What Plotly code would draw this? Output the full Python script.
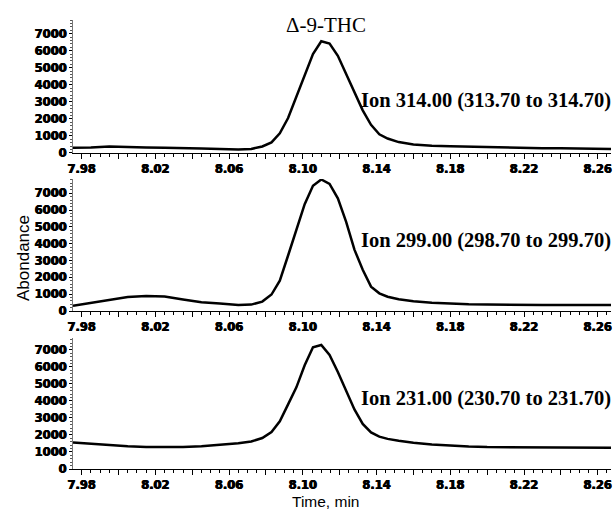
import plotly.graph_objects as go

# ---- data ----
time_min = [7.9753, 7.985, 7.995, 8.005, 8.015, 8.025, 8.035, 8.045, 8.055, 8.065,
            8.072, 8.078, 8.083, 8.0875, 8.092, 8.0965, 8.101, 8.1055, 8.110, 8.1145,
            8.119, 8.1235, 8.128, 8.1325, 8.137, 8.1415, 8.146, 8.152, 8.16, 8.17,
            8.18, 8.19, 8.20, 8.21, 8.22, 8.23, 8.24, 8.25, 8.26, 8.2672]

ion_314 = [310, 320, 380, 330, 320, 310, 270, 270, 240, 210,
           240, 380, 620, 1150, 2050, 3300, 4600, 5800, 6550, 6420,
           5700, 4600, 3600, 2500, 1650, 1100, 850, 640, 500, 420,
           390, 360, 340, 310, 290, 280, 275, 260, 240, 230]

ion_299 = [310, 480, 650, 830, 890, 860, 680, 520, 440, 360,
           380, 560, 980, 1800, 3300, 4850, 6350, 7450, 7820, 7560,
           6700, 5300, 3650, 2450, 1450, 1050, 850, 700, 580, 490,
           430, 400, 380, 360, 350, 350, 350, 350, 350, 350]

ion_231 = [1550, 1470, 1400, 1330, 1290, 1270, 1290, 1340, 1420, 1510,
           1620, 1820, 2170, 2800, 3800, 4800, 6100, 7150, 7290, 6700,
           5700, 4550, 3500, 2650, 2150, 1900, 1770, 1660, 1540, 1440,
           1370, 1320, 1290, 1280, 1270, 1270, 1260, 1230, 1220, 1250]

series = [ion_314, ion_299, ion_231]
ion_labels = ["Ion 314.00 (313.70 to 314.70)",
              "Ion 299.00 (298.70 to 299.70)",
              "Ion 231.00 (230.70 to 231.70)"]
y_ranges = [[0, 7800], [0, 7850], [0, 7700]]

x_tickvals = [7.98, 8.00, 8.02, 8.04, 8.06, 8.08, 8.10, 8.12, 8.14, 8.16, 8.18, 8.20, 8.22, 8.24, 8.26]
x_ticktext = ["7.98", "", "8.02", "", "8.06", "", "8.10", "", "8.14", "", "8.18", "", "8.22", "", "8.26"]
y_tickvals = [0, 1000, 2000, 3000, 4000, 5000, 6000, 7000]

title_text = "Δ-9-THC"
y_title = "Abondance"
x_title = "Time, min"

# ---- layout ----
domains = [[0.7038, 1.0], [0.3519, 0.6459], [0.0, 0.2918]]
label_y = [0.8218, 0.510, 0.158]

def bold(s):
    return "<b>" + s + "</b>" if s else ""

fig = go.Figure()
tick_font = dict(family="DejaVu Sans", size=11.5, color="black", weight=700,
                 shadow="0.45px 0 0 black, -0.45px 0 0 black")

for i, vals in enumerate(series):
    xa = "x" if i == 0 else f"x{i+1}"
    ya = "y" if i == 0 else f"y{i+1}"
    fig.add_trace(go.Scatter(x=time_min, y=vals, mode="lines",
                             line=dict(color="black", width=2.5),
                             xaxis=xa, yaxis=ya, showlegend=False, hoverinfo="skip"))
    xk = "xaxis" if i == 0 else f"xaxis{i+1}"
    yk = "yaxis" if i == 0 else f"yaxis{i+1}"
    fig.update_layout({
        xk: dict(domain=[0, 1], anchor=ya, range=[7.9753, 8.2672],
                 tickmode="array", tickvals=x_tickvals, ticktext=x_ticktext,
                 ticks="outside", ticklen=5, tickwidth=1, tickcolor="black",
                 minor=dict(dtick=0.005, tick0=7.98, ticks="outside", ticklen=3,
                            tickcolor="black", tickwidth=1, showgrid=False),
                 showline=True, linecolor="black", linewidth=1,
                 showgrid=False, zeroline=False, tickfont=tick_font),
        yk: dict(domain=domains[i], anchor=xa, range=y_ranges[i],
                 tickmode="array", tickvals=y_tickvals,
                 ticktext=[str(v) for v in y_tickvals],
                 ticks="outside", ticklen=3, tickwidth=1, tickcolor="black",
                 minor=dict(dtick=200, tick0=0, ticks="outside", ticklen=2,
                            tickcolor="#555", tickwidth=1, showgrid=False),
                 showline=True, linecolor="#777", linewidth=1,
                 showgrid=False, zeroline=False, tickfont=tick_font),
    })
    fig.add_annotation(text=bold(ion_labels[i]), xref="paper", yref="paper",
                       x=1.0037, y=label_y[i], xanchor="right", yanchor="middle",
                       showarrow=False,
                       font=dict(family="Liberation Serif", size=20.5, color="black"))

fig.add_annotation(text=title_text, xref="paper", yref="paper", x=0.470, y=0.989,
                   xanchor="center", yanchor="middle", showarrow=False,
                   font=dict(family="Liberation Serif", size=21, color="black"))
fig.add_annotation(text=y_title, xref="paper", yref="paper", x=-0.091, y=0.47,
                   xanchor="center", yanchor="middle", textangle=-90, showarrow=False,
                   font=dict(family="Liberation Sans", size=17, color="black"))
fig.add_annotation(text=x_title, xref="paper", yref="paper", x=0.470, y=-0.0713,
                   xanchor="center", yanchor="middle", showarrow=False,
                   font=dict(family="Liberation Sans", size=15.5, color="black"))

fig.update_layout(width=615, height=509, margin=dict(l=73, r=4, t=20, b=40),
                  paper_bgcolor="white", plot_bgcolor="white")

fig.write_html("out.html")
